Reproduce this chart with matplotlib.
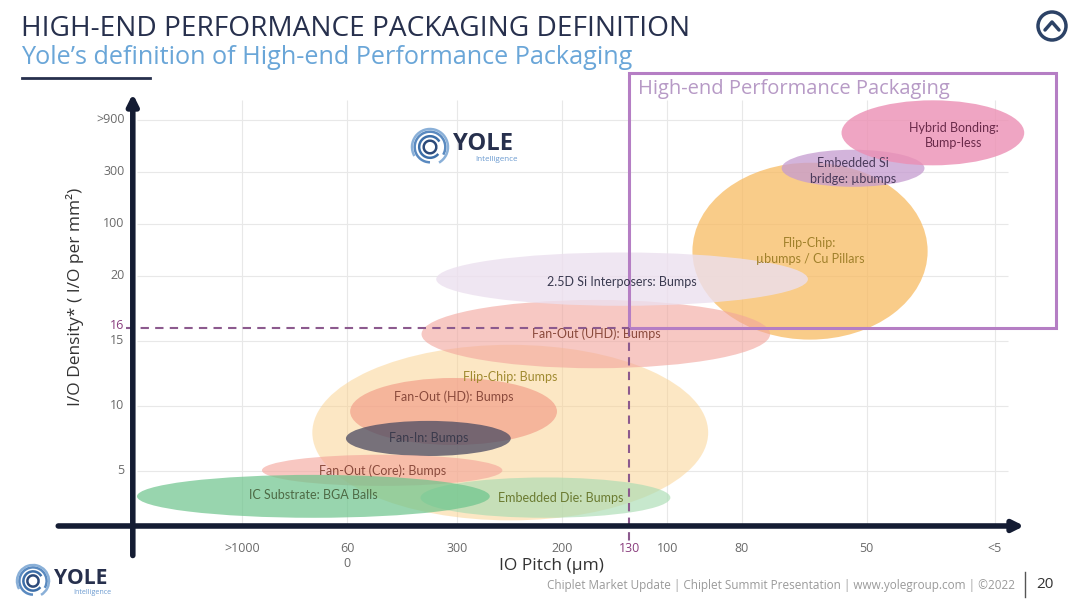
import matplotlib
matplotlib.use("Agg")
import matplotlib.pyplot as plt
from matplotlib.patches import Ellipse, Rectangle, Circle, Arc

# ---- data (ordinal axes: x = pitch rank position, y = density rank position)
pitch_labels = ['>1000', '60\n0', '300', '200', '100', '80', '50', '<5']
pitch_pos = [1.0, 2.0, 3.05, 4.05, 5.05, 5.76, 6.95, 8.17]
density_labels = ['5', '10', '15', '20', '100', '300', '>900']
density_pos = [5, 10, 15, 20, 24, 28, 32]
pitch_limit_pos = 4.69      # 130 um
density_limit = 16          # 16 I/O per mm2

names = ['Flip-Chip: Bumps', 'Flip-Chip:\nµbumps / Cu Pillars', 'Fan-Out (UHD): Bumps',
         '2.5D Si Interposers: Bumps', 'Fan-Out (HD): Bumps', 'Fan-In: Bumps',
         'Fan-Out (Core): Bumps', 'Embedded Die: Bumps', 'IC Substrate: BGA Balls',
         'Embedded Si\nbridge: µbumps', 'Hybrid Bonding:\nBump-less']
x_lo = [1.67, 5.29, 2.71, 2.85, 2.03, 1.99, 1.19, 2.70, 0.00, 6.14, 6.71]
x_hi = [5.44, 7.53, 6.03, 6.39, 4.00, 3.56, 3.48, 5.08, 3.36, 7.50, 8.45]
y_lo = [1.2, 15.1, 12.9, 17.7, 7.0, 6.15, 3.85, 1.4, 1.4, 26.85, 28.5]
y_hi = [14.7, 28.7, 18.15, 21.8, 12.15, 8.85, 6.25, 4.5, 4.7, 29.7, 33.5]
label_dx = [0, 0, 0, 0, 0, 0, 0, 0.15, 0, 0, 0.2]
label_dy = [4.3, 0, 0, -0.2, 1.1, 0, 0, 0, 0.1, -0.2, -0.2]
fills = ['#fbd08a', '#f8bb62', '#f2a49c', '#ece0ef', '#f29a86', '#4a4a62',
         '#f4a298', '#a9dcb3', '#6cc48c', '#c59bd0', '#ec8fb4']
alphas = [0.5, 0.75, 0.6, 0.8, 0.65, 0.75, 0.6, 0.65, 0.7, 0.75, 0.8]
text_cols = ['#a08a30', '#a0802a', '#8a4a3c', '#3a3a50', '#8a4a3c', '#3a3a4c',
             '#8a4a3c', '#6a7a30', '#4e6a45', '#4a3a5a', '#6a2a4a']

fig = plt.figure(figsize=(10.8, 6.07), dpi=100)
fig.patch.set_facecolor('white')

# main axes, placed so that the ordinal units line up with the slide
ax = fig.add_axes([30 / 1080, 42 / 607, 1040 / 1080, 505 / 607])
ax.set_xlim(-1.019, 8.886)
ax.set_ylim(-2.23, 36.6)
ax.axis('off')

grid_c = '#e8e8e8'
ax.vlines(pitch_pos, 0.8, 33.5, color=grid_c, lw=0.8, zorder=0)
ax.hlines(density_pos, 0, 8.3, color=grid_c, lw=0.8, zorder=0)

for i, n in enumerate(names):
    cx = (x_lo[i] + x_hi[i]) / 2
    cy = (y_lo[i] + y_hi[i]) / 2
    e = Ellipse((cx, cy), x_hi[i] - x_lo[i], y_hi[i] - y_lo[i],
                facecolor=fills[i], edgecolor='none', alpha=alphas[i], zorder=2 + i * 0.01)
    ax.add_patch(e)
    ax.text(cx + label_dx[i], cy + label_dy[i], n, ha='center', va='center',
            fontsize=9, color=text_cols[i], family='Lato', zorder=5, linespacing=1.35)

# high-end box
box_c = '#b57ec4'
ax.add_patch(Rectangle((pitch_limit_pos, density_limit), 8.75 - pitch_limit_pos,
                       35.6 - density_limit, fill=False, edgecolor=box_c, lw=2.2,
                       zorder=4, clip_on=False))
ax.text(4.77, 34.4, 'High-end Performance Packaging', fontsize=14.5, color='#b79ac6',
        ha='left', va='center', family='Open Sans', zorder=6)

# threshold dashed lines
dash_c = '#8c5a8e'
ax.plot([-0.1, pitch_limit_pos], [density_limit, density_limit], ls=(0, (4, 3)),
        color=dash_c, lw=1.5, zorder=6)
ax.plot([pitch_limit_pos, pitch_limit_pos], [density_limit, -0.4], ls=(0, (4, 3)),
        color=dash_c, lw=1.5, zorder=6)

# axes arrows
axis_c = '#141c33'
ax.annotate('', xy=(8.45, 0.77), xytext=(-0.75, 0.77),
            arrowprops=dict(arrowstyle='-|>', lw=4, color=axis_c, mutation_scale=16,
                            shrinkA=0, shrinkB=0), zorder=7)
ax.annotate('', xy=(-0.04, 34.0), xytext=(-0.04, -1.5),
            arrowprops=dict(arrowstyle='-|>', lw=4, color=axis_c, mutation_scale=16,
                            shrinkA=0, shrinkB=0), zorder=7)

tick_c = '#6a6a6a'
for p, l in zip(pitch_pos, pitch_labels):
    ax.text(p, -0.45, l, ha='center', va='top', fontsize=9, color=tick_c,
            family='Open Sans', linespacing=1.2)
ax.text(pitch_limit_pos, -0.45, '130', ha='center', va='top', fontsize=9,
        color='#8a3e7e', family='Open Sans')
for p, l in zip(density_pos, density_labels):
    ax.text(-0.12, p, l, ha='right', va='center', fontsize=9, color=tick_c,
            family='Open Sans')
ax.text(-0.12, density_limit + 0.2, '16', ha='right', va='center', fontsize=9,
        color='#8a3e7e', family='Open Sans')

ax.text(-0.59, 18.4, 'I/O Density* ( I/O per mm²)', rotation=90, ha='center',
        va='center', fontsize=12.5, color='#333333', family='Open Sans')
ax.text(3.95, -2.3, 'IO Pitch (µm)', ha='center', va='center', fontsize=12.5,
        color='#333333', family='Open Sans')

# decoration layer in slide pixels
deco = fig.add_axes([0, 0, 1, 1], zorder=10)
deco.set_xlim(0, 1080)
deco.set_ylim(607, 0)
deco.axis('off')
deco.patch.set_alpha(0)

navy = '#27304d'
deco.text(21, 29, 'HIGH-END PERFORMANCE PACKAGING DEFINITION', fontsize=20.2,
          color=navy, family='Open Sans', va='center', ha='left')
deco.text(21, 58, 'Yole\u2019s definition of High-end Performance Packaging', fontsize=18.2,
          color='#6aa6d8', family='Open Sans', va='center', ha='left')
deco.plot([22, 150], [78, 78], color=navy, lw=2)

# top-right icon
deco.add_patch(Circle((1052, 26), 14, fill=False, edgecolor='#2c4266', lw=2.5))
deco.plot([1045, 1052, 1059], [30, 22, 30], color='#2c4266', lw=2.5,
          solid_capstyle='round')


def logo(x, y, s):
    for r, t1, t2, c in [(0.35, 0, 360, '#2c4a7a'), (0.6, 40, 330, '#3c6ea8'),
                         (0.85, 90, 390, '#5a8ac0'), (1.0, 150, 420, '#8ab0d8')]:
        deco.add_patch(Arc((x, y), 2 * r * s, 2 * r * s, theta1=t1, theta2=t2,
                           color=c, lw=1.8))
    deco.text(x + 1.3 * s, y - 0.15 * s, 'YOLE', fontsize=s * 0.95, fontweight='bold',
              color=navy, family='Open Sans', va='center', ha='left')
    deco.text(x + 2.5 * s, y + 0.7 * s, 'Intelligence', fontsize=s * 0.32,
              color='#6a9ad0', family='Open Sans', va='center', ha='left')


logo(430, 147, 18)
logo(33, 581, 16)

deco.text(1015, 585, 'Chiplet Market Update | Chiplet Summit Presentation | '
          'www.yolegroup.com | ©2022', fontsize=8.5, color='#9a9a9a', ha='right',
          va='center', family='Open Sans')
deco.plot([1025, 1025], [572, 597], color='#555555', lw=1)
deco.text(1036, 585, '20', fontsize=11, color='#333333', ha='left', va='center',
          family='Open Sans')

fig.savefig('out.png', dpi=100)
